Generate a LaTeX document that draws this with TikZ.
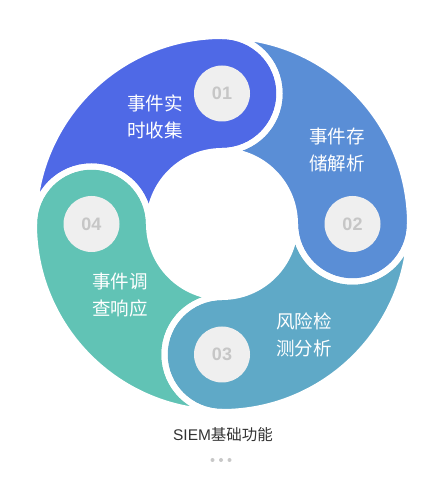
\documentclass[tikz,border=0pt]{standalone}
\usepackage{fontspec}
\setmainfont{Liberation Sans}
\newfontfamily\cjk{Noto Sans CJK SC}
\usetikzlibrary{calc}
\definecolor{segA}{HTML}{4F69E6}
\definecolor{segB}{HTML}{5A8ED6}
\definecolor{segC}{HTML}{5FA9C7}
\definecolor{segD}{HTML}{61C3B5}
\definecolor{numgray}{HTML}{C6C6C6}
\definecolor{diskgray}{HTML}{EFEFEF}
\definecolor{titlecol}{HTML}{333333}
\definecolor{dotcol}{HTML}{C8C8C8}
\begin{document}
\begin{tikzpicture}[x=0.75pt,y=0.75pt,
  lbl/.style={align=center,text=white,font=\cjk\fontsize{13.9}{20.25}\selectfont,inner sep=0pt},
  numdisk/.style={circle,fill=diskgray,minimum size=42pt,inner sep=0pt,text=numgray,font=\bfseries\fontsize{13.5}{14}\selectfont},
  dotmark/.style={circle,fill=dotcol,minimum size=3pt,inner sep=0pt}]
\useasboundingbox (0,0) rectangle (436,478);
\coordinate (C) at (222,254);
% fills
\foreach \a/\col in {180/segA,90/segB,0/segC,-90/segD}{
  \pgfmathsetmacro\b{\a-90}
  \fill[\col] ($(C)+(\a:188)$) arc[start angle=\a,end angle=\b,radius=188]
    arc[start angle=\b,end angle=\b-180,radius=57.5]
    arc[start angle=\b,end angle=\a,radius=73]
    arc[start angle=\a+180,end angle=\a+360,radius=57.5] -- cycle;
}
% white gaps
\foreach \a in {180,90,0,-90}{
  \pgfmathsetmacro\b{\a-90}
  \draw[white,line width=4.5pt] ($(C)+(\a:188)$) arc[start angle=\a,end angle=\b,radius=188]
    arc[start angle=\b,end angle=\b-180,radius=57.5]
    arc[start angle=\b,end angle=\a,radius=73]
    arc[start angle=\a+180,end angle=\a+360,radius=57.5] -- cycle;
}
\node[numdisk] (n1) at ($(C)+(90:130.5)$) {01};
\node[numdisk] (n2) at ($(C)+(0:130.5)$) {02};
\node[numdisk] (n3) at ($(C)+(-90:130.5)$) {03};
\node[numdisk] (n4) at ($(C)+(180:130.5)$) {04};
\node[lbl] (t1) at (155,361) {事件实\\时收集};
\node[lbl] (t2) at (337,328) {事件存\\储解析};
\node[lbl] (t3) at (304,143) {风险检\\测分析};
\node[lbl] (t4) at (120,183) {事件调\\查响应};
\node[text=titlecol,inner sep=0pt] (title) at (223,43) {\fontsize{11.6}{14}\selectfont SIEM{\cjk 基础功能}};
\node[dotmark] (d1) at (212.5,18) {};
\node[dotmark] (d2) at (221,18) {};
\node[dotmark] (d3) at (229.5,18) {};
\end{tikzpicture}
\end{document}
